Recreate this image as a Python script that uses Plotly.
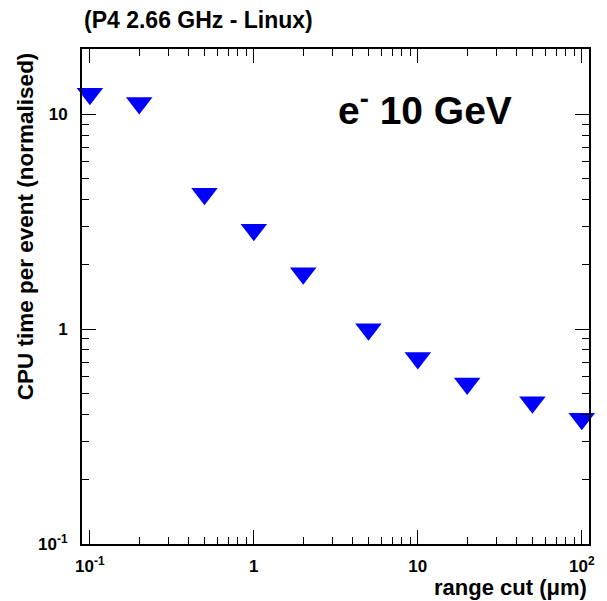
import plotly.graph_objects as go

# Data
range_cut_um = [0.1, 0.2, 0.5, 1, 2, 5, 10, 20, 50, 100]
cpu_time_norm = [12.46, 11.29, 4.27, 2.90, 1.82, 1.00, 0.735, 0.558, 0.457, 0.383]

x_tickvals = [0.1, 1, 10, 100]
x_ticktext = ["10<sup>-1</sup>", "1", "10", "10<sup>2</sup>"]
y_tickvals = [0.1, 1, 10]
y_ticktext = ["10<sup>-1</sup>", "1", "10"]

FONT = "Liberation Sans, Arial, Helvetica, sans-serif"

fig = go.Figure()
fig.add_trace(go.Scatter(
    x=range_cut_um, y=cpu_time_norm, mode="markers",
    marker=dict(symbol="triangle-down", size=23, color="#0000ff",
                line=dict(width=0)),
    showlegend=False, cliponaxis=False,
))

axis_common = dict(
    type="log", showgrid=False, zeroline=False,
    showline=True, linecolor="black", linewidth=2, mirror="allticks",
    ticks="inside", ticklen=14, tickwidth=1, tickcolor="black",
    minor=dict(ticks="inside", ticklen=7, tickwidth=1, tickcolor="black",
               dtick="D1", showgrid=False),
    tickfont=dict(family=FONT, size=17, color="black", weight="bold"),
    tickmode="array",
)

fig.update_xaxes(**axis_common, range=[-1.048, 2.044],
                 tickvals=x_tickvals, ticktext=x_ticktext, ticklabelstandoff=6)
fig.update_yaxes(**axis_common, range=[-1.0, 1.304],
                 tickvals=y_tickvals, ticktext=y_ticktext, ticklabelstandoff=9)

fig.add_annotation(text="<b>(P4 2.66 GHz - Linux)</b>", xref="paper", yref="paper",
                   x=0, y=1.0586, xanchor="left", yanchor="middle", showarrow=False,
                   font=dict(family=FONT, size=23, color="black"))
fig.add_annotation(text="<b>range cut (μm)</b>", xref="paper", yref="paper",
                   x=1, y=-0.058, xanchor="right", yanchor="top", showarrow=False,
                   font=dict(family=FONT, size=22, color="black"))
fig.add_annotation(text="<b>CPU time per event (normalised)</b>", xref="paper", yref="paper",
                   x=-0.11, y=0.998, xanchor="center", yanchor="top", showarrow=False,
                   textangle=-90, font=dict(family=FONT, size=22.5, color="black"))
fig.add_annotation(text="<b>e<sup>-</sup> 10 GeV</b>", xref="paper", yref="paper",
                   x=0.5004, y=0.882, xanchor="left", yanchor="middle", showarrow=False,
                   font=dict(family=FONT, size=39, color="black"))

fig.update_layout(
    width=607, height=601,
    margin=dict(l=82, r=14, t=49, b=57, pad=0),
    plot_bgcolor="white", paper_bgcolor="white",
)

fig.write_html("out.html", config={"displayModeBar": False},
               post_script="document.body.style.margin='0';document.body.style.overflow='hidden';")
